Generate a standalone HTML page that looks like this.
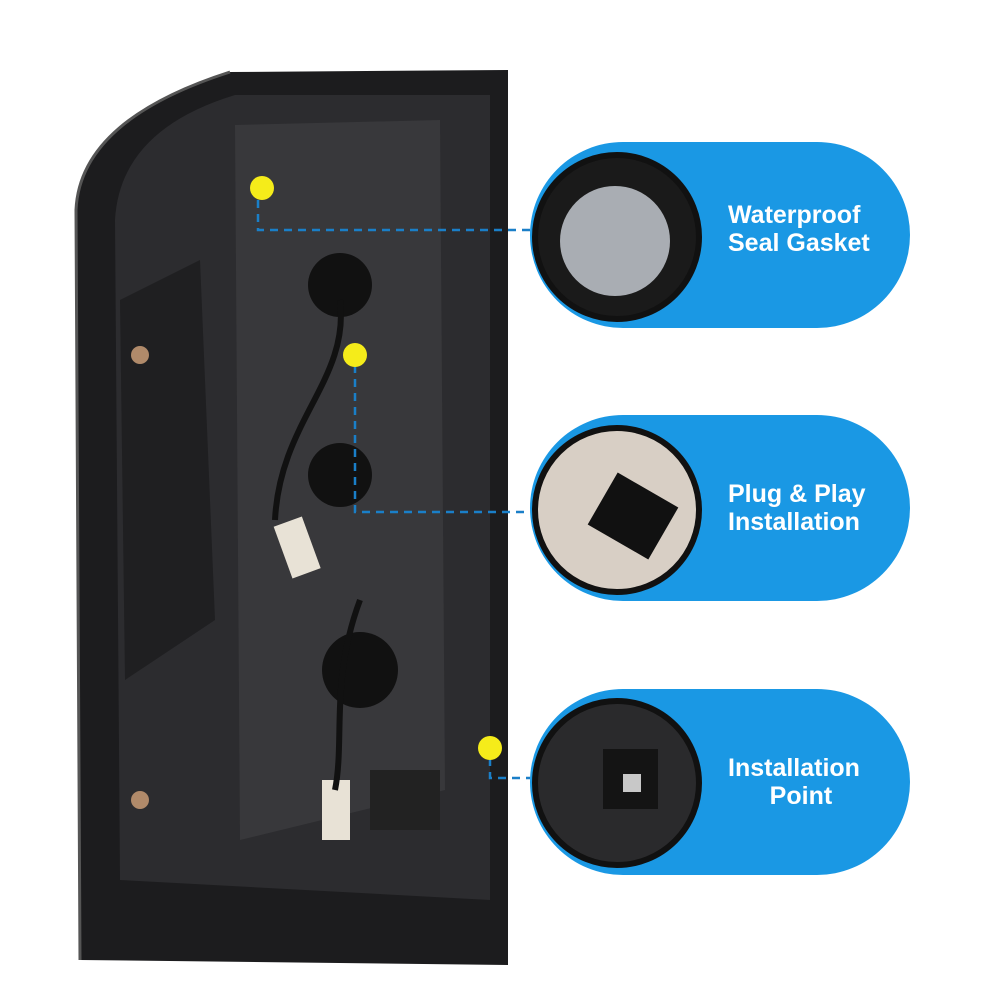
<!DOCTYPE html>
<html><head><meta charset="utf-8"><style>
html,body{margin:0;padding:0;background:#fff;}
#c{position:relative;width:1000px;height:1000px;overflow:hidden;background:#fff;font-family:"Liberation Sans",sans-serif;}
.pill{position:absolute;left:530px;width:380px;height:186px;border-radius:93px;background:#1a98e4;}
.lbl{position:absolute;left:728px;color:#fff;font-weight:bold;font-size:25px;line-height:28px;}
.circ{position:absolute;width:170px;height:170px;border-radius:50%;border:6px solid #111;box-sizing:border-box;overflow:hidden;}
</style></head><body><div id="c">
<svg width="1000" height="1000" style="position:absolute;left:0;top:0">
<path d="M230 72 L508 70 L508 965 L80 960 L76 210 Q80 120 230 72 Z" fill="#1c1c1e"/>
<path d="M230 72 Q80 120 76 210 L80 960" stroke="#555" stroke-width="3" fill="none"/>
<path d="M235 95 L490 95 L490 900 L120 880 L115 220 Q120 130 235 95 Z" fill="#2c2c2f"/>
<path d="M235 125 L440 120 L445 790 L240 840 Z" fill="#38383b"/>
<path d="M120 300 L200 260 L215 620 L125 680 Z" fill="#1f1f21"/>
<circle cx="340" cy="285" r="32" fill="#111"/>
<circle cx="340" cy="475" r="32" fill="#111"/>
<circle cx="360" cy="670" r="38" fill="#111"/>
<rect x="282" y="520" width="30" height="55" fill="#e8e2d6" transform="rotate(-20 297 547)"/>
<rect x="322" y="780" width="28" height="60" fill="#e8e2d6"/>
<path d="M340 300 C350 380 280 420 275 520" stroke="#111" stroke-width="6" fill="none"/>
<path d="M360 600 C330 680 345 740 335 790" stroke="#111" stroke-width="6" fill="none"/>
<circle cx="140" cy="355" r="9" fill="#b08a6a"/>
<circle cx="140" cy="800" r="9" fill="#b08a6a"/>
<rect x="370" y="770" width="70" height="60" fill="#222"/>
<g stroke="#1a7fc8" stroke-width="2.5" stroke-dasharray="8 6" fill="none">
<path d="M258 200 V230 H530"/>
<path d="M355 365 V512 H530"/>
<path d="M490 758 V778 H530"/>
</g>
<circle cx="262" cy="188" r="12" fill="#f5ec1a"/>
<circle cx="355" cy="355" r="12" fill="#f5ec1a"/>
<circle cx="490" cy="748" r="12" fill="#f5ec1a"/>
</svg>
<div class="pill" style="top:142px"></div>
<div class="pill" style="top:415px"></div>
<div class="pill" style="top:689px"></div>
<div class="circ" style="left:532px;top:152px;background:#1a1a1a"><div style="position:absolute;left:22px;top:28px;width:110px;height:110px;border-radius:50%;background:#a9adb3"></div></div>
<div class="circ" style="left:532px;top:425px;background:#d8cfc5"><div style="position:absolute;left:60px;top:55px;width:70px;height:60px;background:#111;transform:rotate(30deg)"></div></div>
<div class="circ" style="left:532px;top:698px;background:#2a2a2c"><div style="position:absolute;left:65px;top:45px;width:55px;height:60px;background:#141414"></div><div style="position:absolute;left:85px;top:70px;width:18px;height:18px;background:#c8c8c8"></div></div>
<div class="lbl" style="top:201px">Waterproof<br>Seal Gasket</div>
<div class="lbl" style="top:480px">Plug &amp; Play<br>Installation</div>
<div class="lbl" style="top:754px">Installation<br>&nbsp;&nbsp;&nbsp;&nbsp;&nbsp;&nbsp;Point</div>
</div></body></html>
